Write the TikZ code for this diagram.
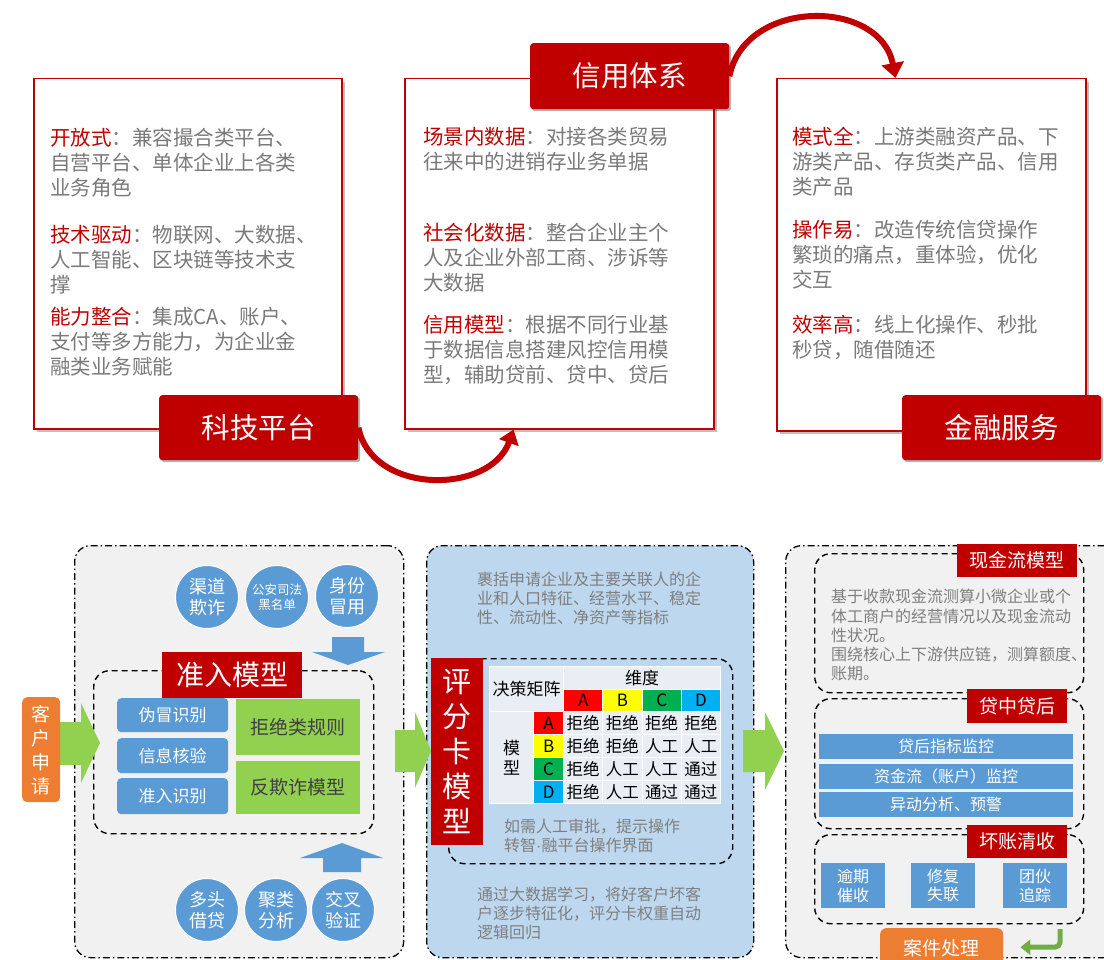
\documentclass[tikz,border=0pt]{standalone}
\usepackage{fontspec}
\newfontfamily\cjk{Noto Sans CJK SC}
\newfontfamily\lat{Liberation Sans}
\usetikzlibrary{calc,shadows,arrows.meta}
\definecolor{dred}{HTML}{C00000}
\definecolor{tgray}{HTML}{7A7A7A}
\definecolor{pgtxt}{HTML}{7F7F7F}
\definecolor{bfill}{HTML}{5B9BD5}
\definecolor{gfill}{HTML}{92D050}
\definecolor{ofill}{HTML}{ED7D31}
\definecolor{pgray}{HTML}{F1F1F1}
\definecolor{pblue}{HTML}{BDD7EE}
\definecolor{cellbg}{HTML}{E9EDF4}
\definecolor{tA}{HTML}{FF0000}
\definecolor{tB}{HTML}{FFFF00}
\definecolor{tC}{HTML}{00B050}
\definecolor{tD}{HTML}{00B0F0}
\definecolor{rgreen}{HTML}{70AD47}
\definecolor{tdark}{HTML}{404040}
\newcommand{\fs}[2]{\fontsize{#1}{#2}\selectfont}
\newcommand{\hl}[1]{\textcolor{dred}{#1}}
\begin{document}
\begin{tikzpicture}[x=1pt,y=-1pt,
  topbox/.style={draw=dred, line width=1.5pt, fill=white, inner sep=0, anchor=north west,
    drop shadow={shadow xshift=3pt, shadow yshift=-3pt, opacity=.25, fill=black}},
  toplabel/.style={fill=dred, text=white, rounded corners=3pt, inner sep=0, anchor=north west,
    font=\cjk\fs{28.5}{30}, minimum width=199pt, minimum height=65pt,
    drop shadow={shadow xshift=2pt, shadow yshift=-2pt, opacity=.3, fill=black}},
  para/.style={anchor=north west, inner sep=0, align=left, text=tgray, font=\cjk\fs{20.5}{25}},
  ptext/.style={anchor=north west, inner sep=0, align=left, text=pgtxt, font=\cjk\fs{16}{19}},
  panel/.style={draw=black, line width=1.3pt, dash pattern=on 7pt off 3pt on 1.5pt off 3pt,
    rounded corners=16pt, inner sep=0, anchor=north west},
  innerd/.style={draw=black, line width=1.4pt, dash pattern=on 6pt off 4pt,
    rounded corners=16pt, inner sep=0, anchor=north west},
  circ/.style={circle, fill=bfill, draw=white, line width=1pt, minimum size=63pt, inner sep=0,
    text=white, align=center, font=\cjk\fs{18}{21}},
  bbox/.style={fill=bfill, rounded corners=4pt, text=white, inner sep=0, anchor=north west,
    minimum width=111pt, font=\cjk\fs{17}{20}},
  gbox/.style={fill=gfill, text=tdark, inner sep=0, anchor=north west, minimum width=124pt,
    font=\cjk\fs{19}{22}},
  redlab/.style={fill=dred, text=white, inner sep=0, anchor=north west},
  tcell/.style={draw=white, line width=1.2pt, inner sep=0, anchor=north west,
    font=\cjk\fs{16.5}{18}, text=black},
  bar/.style={fill=bfill, text=white, inner sep=0, anchor=north west, minimum width=254pt,
    minimum height=25pt, font=\cjk\fs{16}{18}},
  sbox/.style={fill=bfill, text=white, inner sep=0, anchor=north west, minimum width=64pt,
    minimum height=45pt, align=center, font=\cjk\fs{16}{18.5}},
  gblock/.style={fill=gfill},
  bblock/.style={fill=bfill}
]
\useasboundingbox (0,0) rectangle (1104,960);
\clip (0,0) rectangle (1104,960);

% ---------------- top part ----------------
\node[topbox, minimum width=308pt, minimum height=350pt] (kjbox) at (33,78) {};
\node[topbox, minimum width=309pt, minimum height=350pt] (xybox) at (404,78) {};
\node[topbox, minimum width=309pt, minimum height=352pt] (jrbox) at (776,78) {};

\node[para] (kj1) at (50,128) {\hl{开放式}：兼容撮合类平台、\\自营平台、单体企业上各类\\业务角色};
\node[para] (kj2) at (50,225) {\hl{技术驱动}：物联网、大数据、\\人工智能、区块链等技术支\\撑};
\node[para] (kj3) at (50,307) {\hl{能力整合}：集成CA、账户、\\支付等多方能力，为企业金\\融类业务赋能};

\node[para] (xy1) at (423,127) {\hl{场景内数据}：对接各类贸易\\往来中的进销存业务单据};
\node[para] (xy2) at (423,223) {\hl{社会化数据}：整合企业主个\\人及企业外部工商、涉诉等\\大数据};
\node[para] (xy3) at (423,315) {\hl{信用模型}：根据不同行业基\\于数据信息搭建风控信用模\\型，辅助贷前、贷中、贷后};

\node[para] (jr1) at (792,127) {\hl{模式全}：上游类融资产品、下\\游类产品、存货类产品、信用\\类产品};
\node[para] (jr2) at (792,220) {\hl{操作易}：改造传统信贷操作\\繁琐的痛点，重体验，优化\\交互};
\node[para] (jr3) at (792,315) {\hl{效率高}：线上化操作、秒批\\秒贷，随借随还};

\node[toplabel] (kjlab) at (159,395) {科技平台};
\node[toplabel, minimum height=66pt] (xylab) at (530,43) {信用体系};
\node[toplabel] (jrlab) at (902,395) {金融服务};

\draw[dred, line width=6pt, -{Triangle[width=20pt,length=14pt]}]
  (kjlab.east) .. controls (372,495) and (490,495) .. ($(xybox.south west)!0.353!(xybox.south east)$);
\draw[dred, line width=6pt, -{Triangle[width=22pt,length=15pt]}]
  (xylab.east) .. controls (745,-2) and (880,-2) .. ($(jrbox.north west)!0.385!(jrbox.north east)$);

% ---------------- bottom panels ----------------
\node[panel, fill=pgray, minimum width=329pt, minimum height=412pt] (p1) at (74,545) {};
\node[panel, fill=pblue, minimum width=327pt, minimum height=412pt] (p2) at (426,545) {};
\node[panel, fill=pgray, minimum width=335pt, minimum height=412pt] (p3) at (785,545) {};

% panel 1
\node[circ] (c1) at (207,597) {渠道\\欺诈};
\node[circ, font=\cjk\fs{12.5}{15}] (c2) at (277,597) {公安司法\\黑名单};
\node[circ] (c3) at (347,596) {身份\\冒用};
\node[circ] (c4) at (207,910) {多头\\借贷};
\node[circ] (c5) at (276,910) {聚类\\分析};
\node[circ] (c6) at (343,910) {交叉\\验证};

\fill[bblock] (332,637) -- (364,637) -- (364,652) -- (385,652) -- (348,665) -- (312,652) -- (332,652) -- cycle;
\fill[bblock] (323,872) -- (361,872) -- (361,858) -- (383,858) -- (342,843) -- (300,858) -- (323,858) -- cycle;

\node[innerd, minimum width=280pt, minimum height=163pt] (in1) at (93,670) {};
\node[redlab, minimum width=140pt, minimum height=46pt, font=\cjk\fs{28}{30}] (zrlab) at (162,652) {准入模型};

\node[bbox, minimum height=34pt] (b1) at (117,698) {伪冒识别};
\node[bbox, minimum height=35pt] (b2) at (117,738) {信息核验};
\node[bbox, minimum height=36pt] (b3) at (117,778) {准入识别};
\node[gbox, minimum height=56pt] (g1) at (236,699) {拒绝类规则};
\node[gbox, minimum height=53pt] (g2) at (236,761) {反欺诈模型};

\fill[gblock] (60,722) -- (81,722) -- (81,703) -- (100,743) -- (81,783) -- (81,765) -- (60,765) -- cycle;
\node[fill=ofill, rounded corners=5pt, text=white, inner sep=0, anchor=north west,
  minimum width=38pt, minimum height=105pt, align=center, font=\cjk\fs{19}{24}] (kh) at (22,697) {客\\户\\申\\请};

\fill[gblock] (395,730) -- (415,730) -- (415,712) -- (431,751) -- (415,788) -- (415,772) -- (395,772) -- cycle;
\fill[gblock] (743,730) -- (765,730) -- (765,712) -- (784,751) -- (765,790) -- (765,772) -- (743,772) -- cycle;

% panel 2
\node[ptext] (t2a) at (477,572) {裹括申请企业及主要关联人的企\\业和人口特征、经营水平、稳定\\性、流动性、净资产等指标};
\node[innerd, minimum width=284pt, minimum height=205pt] (in2) at (448,658) {};
\node[redlab, minimum width=52pt, minimum height=187pt, align=center, font=\cjk\fs{29}{35}] (pflab) at (431,658) {评\\分\\卡\\模\\型};

\node[tcell, fill=cellbg, minimum width=74pt, minimum height=45pt, font=\cjk\fs{17}{19}] (jc) at (489,666) {决策矩阵};
\node[tcell, fill=cellbg, minimum width=157pt, minimum height=23pt, font=\cjk\fs{17}{19}] (wd) at (563,666) {维度};
\node[tcell, fill=cellbg, minimum width=44pt, minimum height=92pt, align=center, font=\cjk\fs{17}{20}] (mx) at (489,711) {模\\型};
\foreach \c/\col [count=\j from 0] in {A/tA,B/tB,C/tC,D/tD} {
  \node[tcell, fill=\col, minimum width=39.25pt, minimum height=22pt, font=\cjk\fs{17}{19}] (h\c) at (563+\j*39.25,689) {\c};
}
\foreach \r/\col/\va/\vb/\vc/\vd [count=\i from 0] in {A/tA/拒绝/拒绝/拒绝/拒绝, B/tB/拒绝/拒绝/人工/人工, C/tC/拒绝/人工/人工/通过, D/tD/拒绝/人工/通过/通过} {
  \node[tcell, fill=\col, minimum width=30pt, minimum height=23pt, font=\cjk\fs{17}{19}] (r\r) at (533,711+\i*23) {\r};
  \foreach \v [count=\j from 0] in {\va,\vb,\vc,\vd}
    \node[tcell, fill=cellbg, minimum width=39.25pt, minimum height=23pt] (d\r\j) at (563+\j*39.25,711+\i*23) {\v};
}
\node[ptext] (t2b) at (504,819) {如需人工审批，提示操作\\转智{\lat ·}融平台操作界面};
\node[ptext] (t2c) at (477,887) {通过大数据学习，将好客户坏客\\户逐步特征化，评分卡权重自动\\逻辑回归};

% panel 3
\node[innerd, minimum width=269pt, minimum height=139pt] (in3a) at (814,553) {};
\node[innerd, minimum width=269pt, minimum height=130pt] (in3b) at (814,698) {};
\node[innerd, minimum width=269pt, minimum height=89pt] (in3c) at (814,834) {};
\node[redlab, minimum width=120pt, minimum height=33pt, font=\cjk\fs{19}{22}] (l3a) at (957,544) {现金流模型};
\node[redlab, minimum width=100pt, minimum height=34pt, font=\cjk\fs{19}{22}] (l3b) at (967,689) {贷中贷后};
\node[redlab, minimum width=100pt, minimum height=33pt, font=\cjk\fs{19}{22}] (l3c) at (967,825) {坏账清收};
\node[ptext, font=\cjk\fs{16}{19.3}] (t3) at (831,589) {基于收款现金流测算小微企业或个\\体工商户的经营情况以及现金流动\\性状况。\\围绕核心上下游供应链，测算额度、\\账期。};
\node[bar] (bar1) at (819,734) {贷后指标监控};
\node[bar] (bar2) at (819,764) {资金流（账户）监控};
\node[bar] (bar3) at (819,792) {异动分析、预警};
\node[sbox] (s1) at (821,863) {逾期\\催收};
\node[sbox] (s2) at (911,863) {修复\\失联};
\node[sbox] (s3) at (1003,863) {团伙\\追踪};
\node[fill=ofill, rounded corners=6pt, text=white, inner sep=0, anchor=north west,
  minimum width=123pt, minimum height=40pt, font=\cjk\fs{19}{22}] (aj) at (880,928) {案件处理};
\coordinate (ra) at (1060,929);
\draw[rgreen, line width=5pt, rounded corners=5pt, -{Triangle[width=15pt,length=10pt]}]
  (ra) |- ($(aj.east)+(17,-1)$);
\end{tikzpicture}
\end{document}
